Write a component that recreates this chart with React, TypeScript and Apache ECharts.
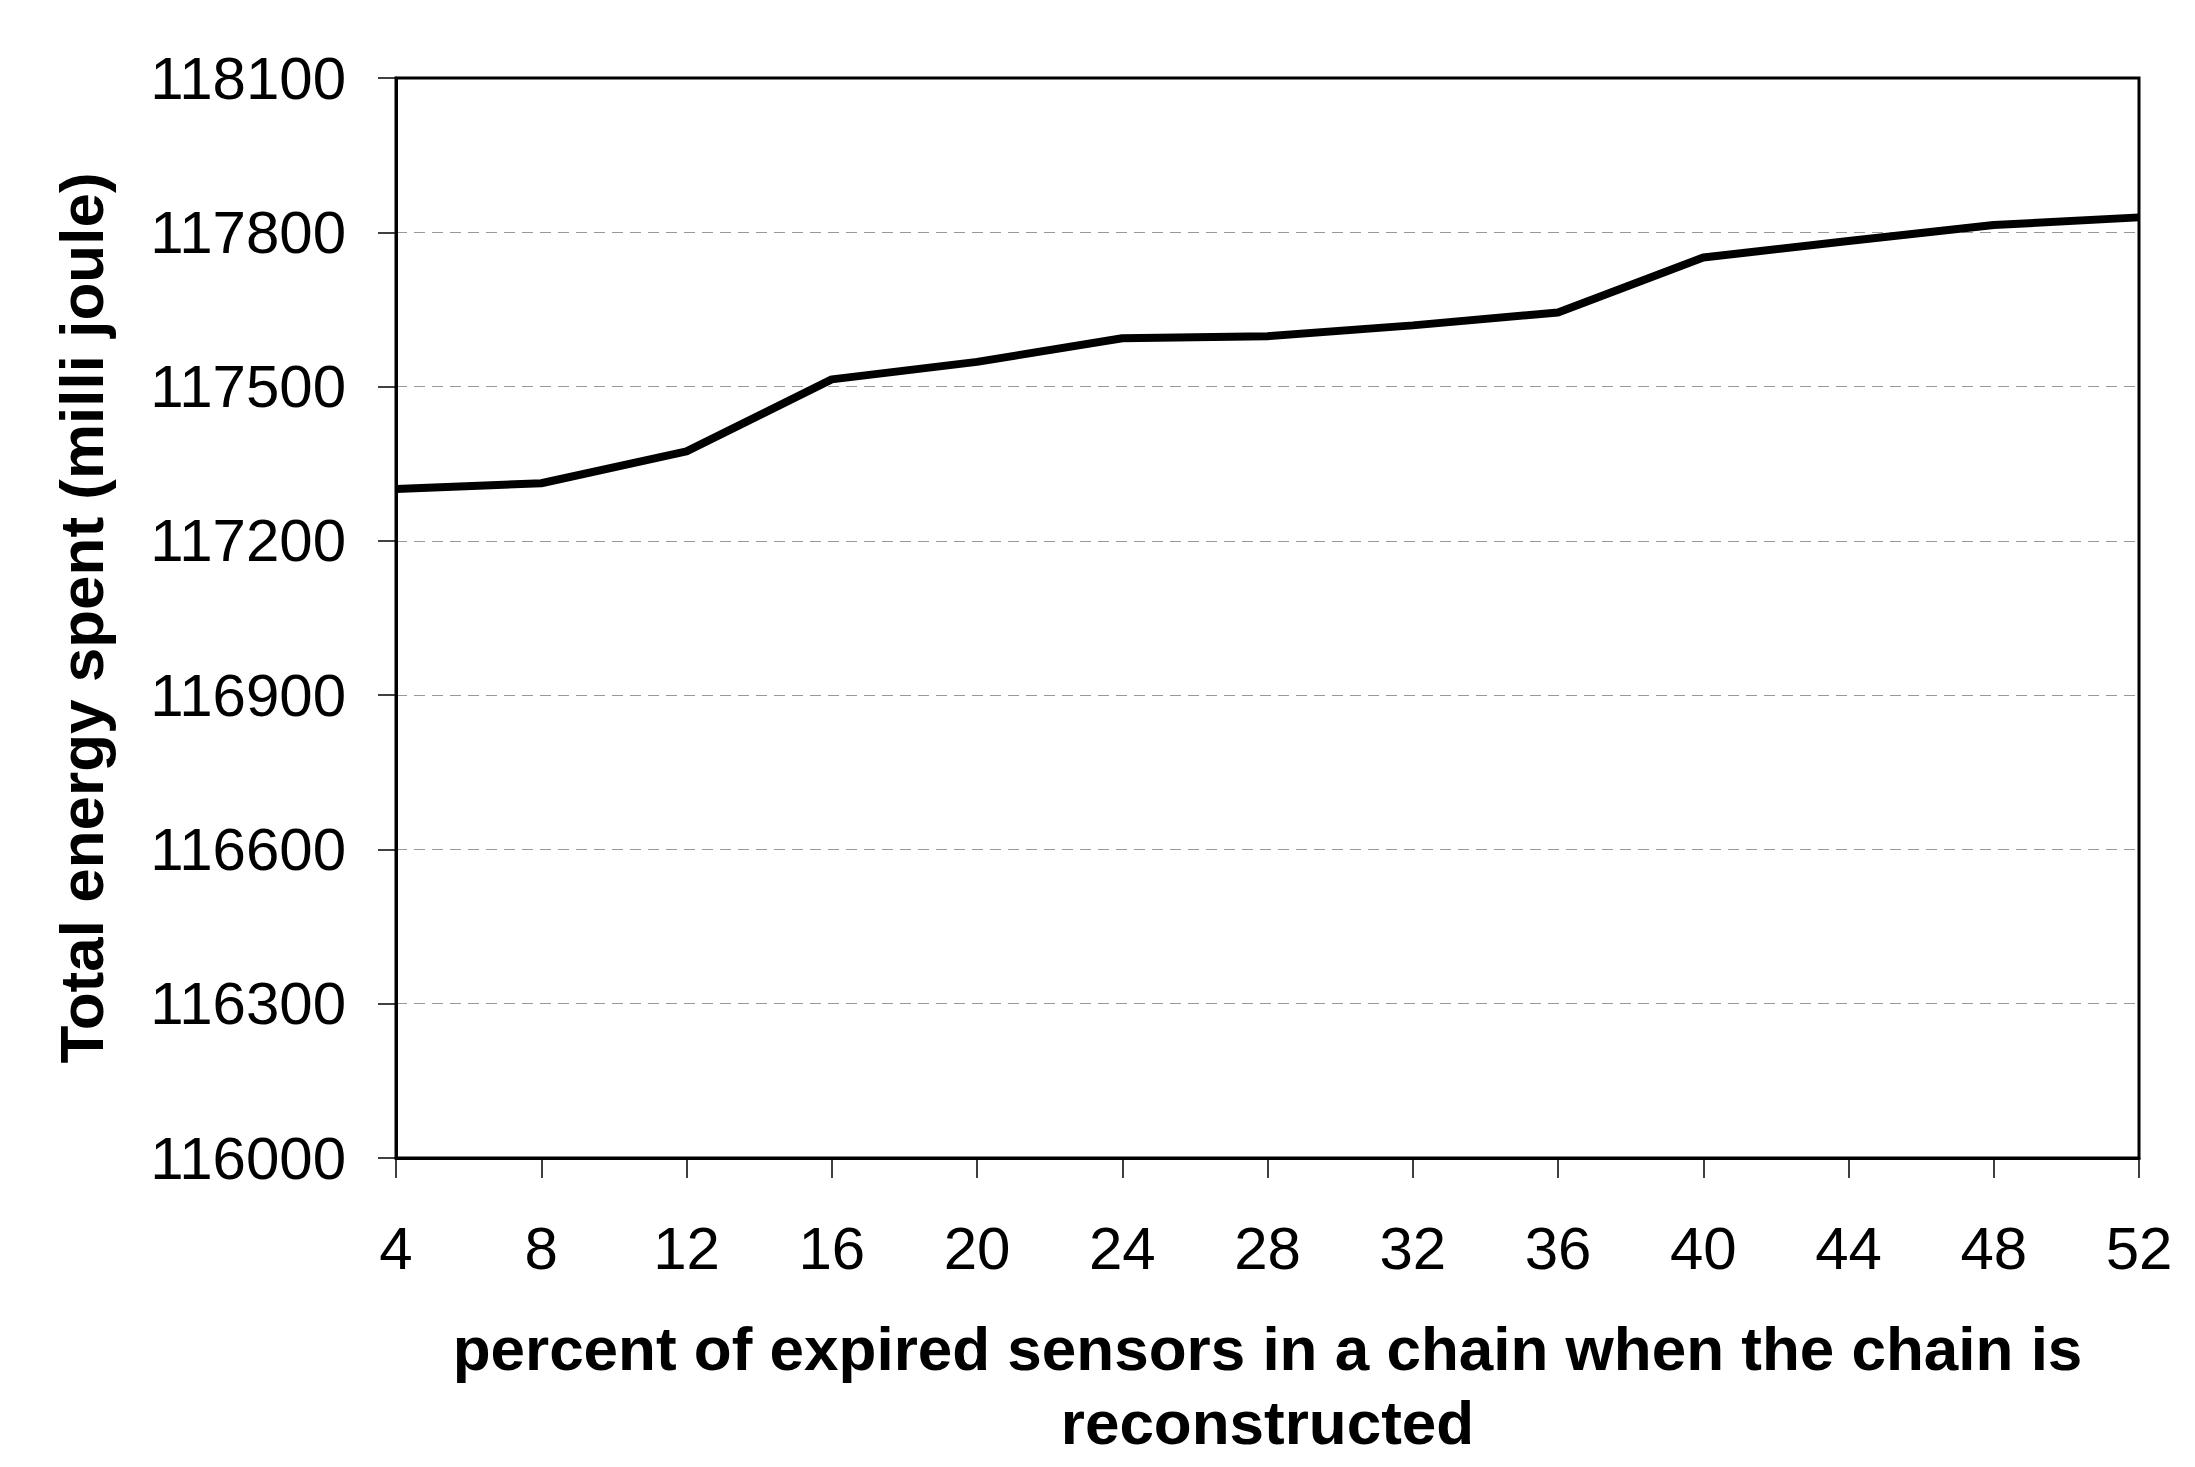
import React, { useEffect, useRef } from "react";
import * as echarts from "echarts";

const xValues = [4, 8, 12, 16, 20, 24, 28, 32, 36, 40, 44, 48, 52];
const energy = [117301, 117312, 117374, 117514, 117548, 117594, 117598, 117619, 117644, 117751, 117783, 117814, 117829];
const yAxisTitle = "Total energy spent (milli joule)";
const xAxisTitle = "percent of expired sensors in a chain when the chain is\nreconstructed";

const FONT = "'Liberation Sans', Arial, sans-serif";

export default function App() {
  const ref = useRef<HTMLDivElement>(null);
  useEffect(() => {
    if (!ref.current) return;
    const chart = echarts.init(ref.current, undefined, { renderer: "svg" });
    chart.setOption({
      animation: false,
      backgroundColor: "#ffffff",
      grid: {
        left: 396,
        right: 56,
        top: 78,
        bottom: 309,
        show: true,
        borderColor: "#000",
        borderWidth: 3,
        backgroundColor: "transparent",
      },
      xAxis: {
        type: "value",
        min: 4,
        max: 52,
        interval: 4,
        name: xAxisTitle,
        nameLocation: "middle",
        nameGap: 153,
        nameTextStyle: {
          fontFamily: FONT,
          fontWeight: "bold",
          fontSize: 62,
          lineHeight: 74,
          color: "#000",
        },
        axisLine: { show: true, lineStyle: { color: "#000", width: 3 } },
        axisTick: { show: true, length: 20, lineStyle: { color: "#000", width: 1.5 } },
        axisLabel: {
          margin: 60,
          fontFamily: FONT,
          fontSize: 60,
          color: "#000",
        },
        splitLine: { show: false },
      },
      yAxis: {
        type: "value",
        min: 116000,
        max: 118100,
        interval: 300,
        name: yAxisTitle,
        nameLocation: "middle",
        nameRotate: 90,
        nameGap: 284,
        nameTextStyle: {
          fontFamily: FONT,
          fontWeight: "bold",
          fontSize: 62,
          color: "#000",
        },
        axisLine: { show: true, lineStyle: { color: "#000", width: 3 } },
        axisTick: { show: true, length: 18, lineStyle: { color: "#000", width: 1.5 } },
        axisLabel: {
          margin: 50,
          fontFamily: FONT,
          fontSize: 60,
          color: "#000",
          formatter: (v: number) => String(v),
        },
        splitLine: {
          show: true,
          showMinLine: false,
          showMaxLine: false,
          lineStyle: { color: "#999", width: 1.2, type: [11, 7] },
        },
      },
      series: [
        {
          type: "line",
          data: xValues.map((x, i) => [x, energy[i]]),
          symbol: "none",
          lineStyle: { color: "#000", width: 8 },
          z: 3,
        },
      ],
    });
    return () => chart.dispose();
  }, []);
  return (
    <div
      ref={ref}
      style={{ position: "fixed", left: 0, top: 0, width: 2195, height: 1467, background: "#fff" }}
    />
  );
}
